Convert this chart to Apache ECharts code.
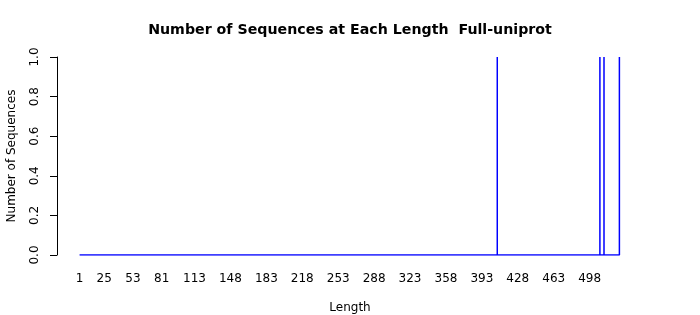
<!DOCTYPE html>
<html>
<head>
<meta charset="utf-8">
<script src="https://cdn.jsdelivr.net/npm/echarts@6/dist/echarts.min.js"></script>
<style>html,body{margin:0;padding:0;background:#fff}#c{width:700px;height:315px}</style>
</head>
<body>
<div id="c"></div>
<script>
// Polyline vertices of the count-per-length line (zero except spikes)
var lengths = [1, 408, 408, 408, 508, 508, 508, 512, 512, 512, 527, 527];
var counts  = [0, 0,   1,   0,   0,   1,   0,   0,   1,   0,   0,   1];
var xTickLabels = [1, 25, 53, 81, 113, 148, 183, 218, 253, 288, 323, 358, 393, 428, 463, 498];
var yTicks = [0, 0.2, 0.4, 0.6, 0.8, 1.0];

var points = lengths.map(function (l, i) { return [l, counts[i]]; });
var font = 'DejaVu Sans';
var chart = echarts.init(document.getElementById('c'), null, {renderer: 'canvas'});
chart.setOption({
  animation: false,
  backgroundColor: '#fff',
  title: {
    text: 'Number of Sequences at Each Length  Full-uniprot',
    left: 'center', top: 23, padding: 0,
    textStyle: {fontFamily: font, fontSize: 14.2, fontWeight: 'bold', color: '#000'}
  },
  grid: {left: 57, right: 57, top: 57, bottom: 60, containLabel: false, outerBoundsMode: 'none'},
  xAxis: {
    type: 'value', min: -21, max: 550,
    name: 'Length', nameLocation: 'middle', nameGap: 47,
    nameTextStyle: {fontFamily: font, fontSize: 12, color: '#000'},
    axisLine: {show: false, onZero: false}, axisTick: {show: false}, splitLine: {show: false},
    axisLabel: {
      customValues: xTickLabels, margin: 18,
      fontFamily: font, fontSize: 12, color: '#000',
      formatter: function (v) { return String(v); }
    }
  },
  yAxis: {
    type: 'value', min: 0, max: 1, interval: 0.2,
    name: 'Number of Sequences', nameLocation: 'middle', nameGap: 39, nameRotate: 90,
    nameTextStyle: {fontFamily: font, fontSize: 12, color: '#000'},
    axisLine: {show: true, onZero: false, lineStyle: {color: '#000', width: 1}},
    axisTick: {show: true, length: 7, lineStyle: {color: '#000'}, customValues: yTicks},
    splitLine: {show: false},
    axisLabel: {
      rotate: 90, margin: 16, customValues: yTicks,
      fontFamily: font, fontSize: 12, color: '#000',
      formatter: function (v) { return v.toFixed(1); }
    }
  },
  series: [{
    type: 'line', data: points, symbol: 'none',
    lineStyle: {color: '#0000ff', width: 1.5}
  }]
});
</script>
</body>
</html>
